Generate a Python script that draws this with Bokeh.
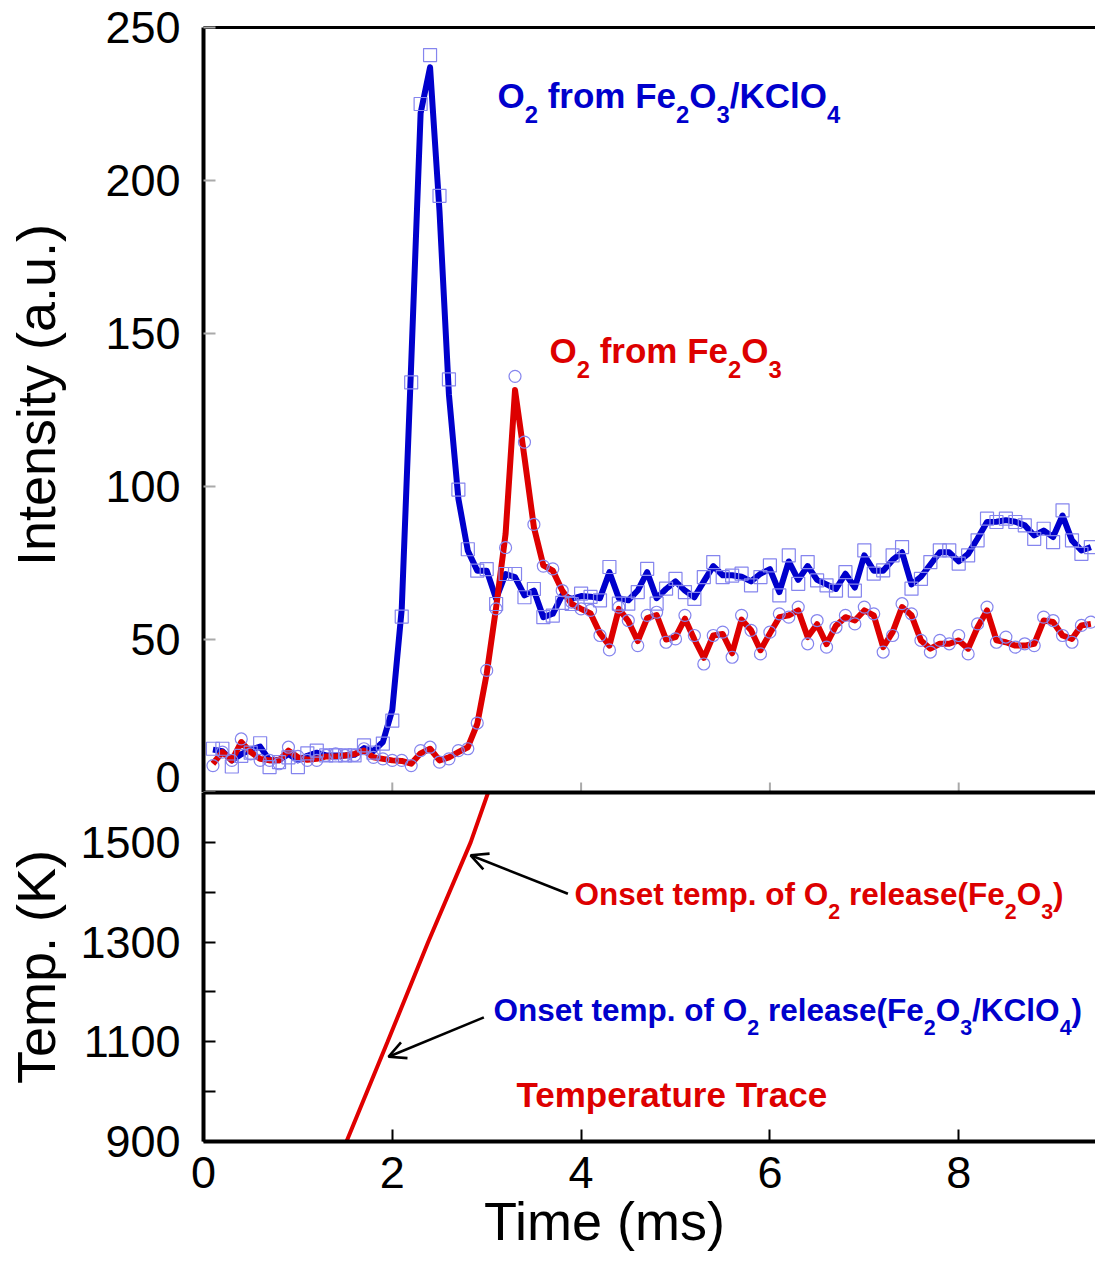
from bokeh.plotting import figure
from bokeh.layouts import column
from bokeh.models import Range1d, LinearAxis, FixedTicker, Label, Arrow, OpenHead
from bokeh.embed import file_html
from bokeh.resources import INLINE

# ---------------- data ----------------
time_ms = [0.1, 0.2, 0.3, 0.4, 0.5, 0.6, 0.7, 0.8, 0.9, 1.0,
           1.1, 1.2, 1.3, 1.4, 1.5, 1.6, 1.7, 1.8, 1.9, 2.0,
           2.1, 2.2, 2.3, 2.4, 2.5, 2.6, 2.7, 2.8, 2.9, 3.0,
           3.1, 3.2, 3.3, 3.4, 3.5, 3.6, 3.7, 3.8, 3.9, 4.0,
           4.1, 4.2, 4.3, 4.4, 4.5, 4.6, 4.7, 4.8, 4.9, 5.0,
           5.1, 5.2, 5.3, 5.4, 5.5, 5.6, 5.7, 5.8, 5.9, 6.0,
           6.1, 6.2, 6.3, 6.4, 6.5, 6.6, 6.7, 6.8, 6.9, 7.0,
           7.1, 7.2, 7.3, 7.4, 7.5, 7.6, 7.7, 7.8, 7.9, 8.0,
           8.1, 8.2, 8.3, 8.4, 8.5, 8.6, 8.7, 8.8, 8.9, 9.0,
           9.1, 9.2, 9.3, 9.4]

# O2 from Fe2O3/KClO4 : measured points (squares) and smoothed curve
kclo4_points = [14.3, 14.3, 8.5, 12.0, 13.0, 16.1, 8.3, 9.9, 11.5, 8.3,
                12.8, 13.7, 12.1, 12.1, 12.1, 12.1, 15.4, 13.0, 16.0, 23.5,
                57.5, 134.0, 225.0, 241.0, 195.0, 135.0, 99.0, 79.5, 72.5, 73.0,
                61.6, 71.4, 71.4, 63.8, 66.5, 57.3, 57.8, 62.0, 61.6, 65.0,
                63.9, 62.8, 73.7, 61.7, 61.7, 65.5, 73.1, 61.7, 66.6, 69.8,
                65.5, 63.3, 70.4, 75.3, 70.4, 70.9, 71.5, 67.7, 70.4, 74.2,
                64.4, 77.5, 68.2, 75.3, 69.3, 67.7, 66.0, 72.0, 66.0, 79.1,
                71.5, 72.6, 77.5, 80.2, 66.6, 69.8, 75.3, 79.1, 79.1, 74.8,
                77.5, 82.4, 89.5, 88.4, 89.5, 88.4, 87.3, 82.9, 86.2, 81.8,
                92.2, 82.4, 78.0, 80.2]
kclo4_curve = [14.0, 13.5, 10.5, 12.5, 14.0, 15.0, 10.5, 10.5, 12.6, 10.5,
               12.0, 13.0, 12.1, 12.1, 12.1, 12.3, 14.5, 13.5, 16.5, 27.0,
               60.0, 140.0, 222.0, 237.0, 190.0, 130.0, 96.0, 79.0, 72.5, 72.5,
               63.3, 71.4, 70.4, 64.4, 66.0, 57.3, 58.4, 64.5, 63.3, 64.2,
               64.0, 63.5, 72.0, 63.5, 62.8, 66.0, 72.0, 63.5, 66.5, 69.0,
               66.0, 63.8, 69.0, 74.0, 71.0, 71.0, 70.5, 69.0, 71.5, 73.0,
               65.5, 75.5, 69.5, 74.0, 69.5, 68.0, 66.5, 71.5, 67.0, 77.5,
               72.5, 72.5, 76.0, 78.5, 68.0, 70.5, 74.5, 78.5, 78.5, 75.5,
               78.0, 83.0, 88.4, 88.5, 89.0, 88.5, 87.3, 84.0, 85.6, 83.5,
               90.5, 82.4, 79.1, 80.2]

# O2 from Fe2O3 : measured points (circles) and smoothed curve
fe2o3_points = [8.8, 13.2, 10.5, 17.5, 12.6, 10.5, 10.5, 9.4, 14.8, 11.8,
                10.5, 10.5, 12.1, 12.6, 12.1, 12.1, 14.3, 11.5, 11.0, 10.5,
                10.5, 8.8, 13.7, 14.8, 9.9, 11.0, 13.7, 14.3, 22.7, 39.9,
                60.0, 80.0, 136.0, 114.5, 87.6, 74.0, 73.1, 66.0, 62.2, 60.0,
                59.5, 51.3, 46.6, 60.6, 56.2, 48.0, 57.9, 58.9, 49.1, 50.2,
                57.9, 51.3, 42.0, 51.3, 52.4, 44.2, 57.9, 53.0, 45.3, 52.4,
                58.4, 57.3, 60.6, 48.6, 56.2, 47.5, 54.0, 57.9, 55.1, 60.6,
                58.4, 45.9, 51.3, 61.7, 58.4, 49.7, 45.9, 49.7, 48.6, 51.3,
                45.3, 55.1, 60.6, 49.1, 50.8, 47.5, 48.6, 48.0, 57.3, 56.2,
                51.3, 49.1, 54.6, 55.7]
fe2o3_curve = [9.4, 13.2, 10.5, 16.5, 13.2, 11.0, 10.5, 10.5, 13.7, 11.5,
               10.7, 11.0, 11.8, 11.8, 12.1, 12.6, 13.7, 11.5, 11.0, 10.5,
               10.3, 9.4, 12.8, 14.3, 10.5, 11.5, 13.2, 14.8, 22.4, 38.8,
               60.5, 84.5, 131.5, 109.5, 86.7, 74.2, 72.5, 66.0, 61.6, 60.0,
               58.5, 52.0, 48.0, 60.0, 56.0, 49.5, 57.0, 58.0, 50.0, 50.8,
               56.8, 50.0, 44.0, 51.3, 51.8, 45.5, 56.5, 53.0, 46.5, 52.0,
               57.3, 57.9, 59.5, 50.8, 55.0, 48.5, 54.5, 57.3, 56.2, 59.5,
               57.9, 47.5, 52.4, 60.6, 57.9, 49.7, 47.0, 48.6, 48.6, 49.7,
               47.0, 54.0, 59.5, 49.7, 49.1, 48.0, 48.0, 48.6, 56.2, 55.7,
               51.3, 50.2, 54.6, 55.1]

# temperature trace
temp_time = [1.515, 1.95, 2.38, 2.83, 3.015]
temp_K = [900, 1100, 1300, 1500, 1600]

# onset arrows (time, temperature): start -> end
onset_fe2o3 = (3.86, 1397, 2.83, 1474)
onset_kclo4 = (2.97, 1149, 1.96, 1070)

intensity_ticks = [0, 50, 100, 150, 200, 250]
temp_ticks = [900, 1100, 1300, 1500]
temp_minor = [1000, 1200, 1400, 1600]
time_ticks = [0, 2, 4, 6, 8]

# ---------------- styling / layout ----------------
FONT = "Liberation Sans"
BLUE = "#0000cc"
RED = "#dd0000"
MARK = "#8585ee"
LEFT = 203
PXMS = 94.4
FW = 892
X_END = FW / PXMS
TOP_H = 765
BOT_H = 349
TICK_FS = "45px"
NB = "\u00a0"

xr = Range1d(0, X_END)


def base_fig(frame_h, yr, top, bottom):
    p = figure(frame_width=FW, frame_height=frame_h, x_range=xr, y_range=yr,
               output_backend="svg", toolbar_location=None,
               x_axis_location=None, y_axis_location=None,
               min_border_left=LEFT, min_border_right=0,
               min_border_top=top, min_border_bottom=bottom)
    p.outline_line_color = None
    p.background_fill_color = "white"
    p.border_fill_color = "white"
    for g in p.grid:
        g.visible = False
    return p


def line_axis(width):
    return LinearAxis(ticker=FixedTicker(ticks=[]), major_label_text_font_size="0px",
                      major_tick_in=0, major_tick_out=0, minor_tick_in=0, minor_tick_out=0,
                      major_label_standoff=0, axis_line_width=width, axis_line_color="black")


# ---- top panel ----
p1 = base_fig(TOP_H, Range1d(0, 250), 27, 0)
ya1 = LinearAxis(ticker=FixedTicker(ticks=intensity_ticks),
                 axis_label=NB * 2 + "Intensity (a.u.)", axis_label_text_font=FONT,
                 axis_label_text_font_size="54px", axis_label_text_font_style="normal",
                 axis_label_text_color="black", axis_label_standoff=36,
                 major_label_text_font=FONT, major_label_text_font_size=TICK_FS,
                 major_label_text_color="black",
                 major_label_standoff=23, major_tick_in=12, major_tick_out=0,
                 major_tick_line_color="#aaaaaa", major_tick_line_width=2,
                 minor_tick_line_color=None, axis_line_width=4, axis_line_color="black")
p1.add_layout(ya1, "left")
p1.add_layout(line_axis(3), "above")
p1.add_layout(line_axis(4), "below")

# grey inward ticks on the bottom edge of the upper panel
p1.segment(x0=time_ticks[1:], y0=[0] * 4, x1=time_ticks[1:], y1=[10 * 250 / TOP_H] * 4,
           line_color="#aaaaaa", line_width=2)

p1.line(time_ms, kclo4_curve, line_color=BLUE, line_width=6, line_join="round")
p1.line(time_ms, fe2o3_curve, line_color=RED, line_width=6, line_join="round")
p1.scatter(time_ms, kclo4_points, marker="square", size=13, fill_color=None,
           line_color=MARK, line_width=1.2)
p1.scatter(time_ms, fe2o3_points, marker="circle", size=12, fill_color=None,
           line_color=MARK, line_width=1.2)

# ---- bottom panel ----
p2 = base_fig(BOT_H, Range1d(900, 1600), 0, 0)
ya2 = LinearAxis(ticker=FixedTicker(ticks=temp_ticks, minor_ticks=temp_minor),
                 axis_label="Temp. (K)", axis_label_text_font=FONT,
                 axis_label_text_font_size="54px", axis_label_text_font_style="normal",
                 axis_label_text_color="black", axis_label_standoff=11,
                 major_label_text_font=FONT, major_label_text_font_size=TICK_FS,
                 major_label_text_color="black",
                 major_label_standoff=23, major_tick_in=12, major_tick_out=0,
                 minor_tick_in=12, minor_tick_out=0,
                 major_tick_line_color="black", major_tick_line_width=2,
                 minor_tick_line_color="black", minor_tick_line_width=2,
                 axis_line_width=4, axis_line_color="black")
p2.add_layout(ya2, "left")
p2.add_layout(line_axis(4), "above")
xb2 = LinearAxis(ticker=FixedTicker(ticks=time_ticks),
                 axis_label="Time (ms)" + NB * 6, axis_label_text_font=FONT,
                 axis_label_text_font_size="54px", axis_label_text_font_style="normal",
                 axis_label_text_color="black", axis_label_standoff=0,
                 major_label_text_font=FONT, major_label_text_font_size=TICK_FS,
                 major_label_text_color="black",
                 major_label_standoff=15, major_tick_in=12, major_tick_out=0,
                 major_tick_line_color="black", major_tick_line_width=2,
                 minor_tick_line_color=None, axis_line_width=4, axis_line_color="black")
p2.add_layout(xb2, "below")

p2.line(temp_time, temp_K, line_color="#e00000", line_width=4)

for (xs, ys, xe, ye) in (onset_fe2o3, onset_kclo4):
    p2.add_layout(Arrow(end=OpenHead(size=17, line_width=2.6, line_color="black"),
                        x_start=xs, y_start=ys, x_end=xe, y_end=ye,
                        line_width=2.6, line_color="black"))


def ymap_top(py):
    return (792 - py) * 250.0 / TOP_H


def ymap_bot(py):
    return 900 + (1141 - py) * 700.0 / BOT_H


# ---- rich text with subscripts ----
W = {' ': 278, '(': 333, ')': 333, '.': 278, '/': 278, '2': 556, '3': 556, '4': 556,
     'C': 722, 'F': 611, 'K': 722, 'O': 778, 'T': 611, 'a': 556, 'c': 556, 'e': 556,
     'f': 333, 'l': 278, 'm': 889, 'n': 611, 'o': 611, 'p': 611, 'r': 389, 's': 556,
     't': 333, 'u': 611}


def rich(p, pieces, x_px, base_px, size, color, ymap):
    x = x_px
    for txt, sub in pieces:
        fs = size * 0.68 if sub else size
        base = base_px + (0.42 * size if sub else 0)
        lead = len(txt) - len(txt.lstrip(" "))
        x += lead * W[" "] / 1000.0 * fs
        txt = txt.lstrip(" ")
        p.add_layout(Label(x=(x - LEFT) / PXMS, y=ymap(base - 0.36 * fs), text=txt,
                           text_font=FONT, text_font_style="bold",
                           text_font_size=f"{fs:.1f}px", text_color=color,
                           text_align="left", text_baseline="alphabetic"))
        x += sum(W.get(c, 556) for c in txt) / 1000.0 * fs


rich(p1, [("O", 0), ("2", 1), (" from Fe", 0), ("2", 1), ("O", 0), ("3", 1),
          ("/KClO", 0), ("4", 1)], 497, 108, 35, BLUE, ymap_top)
rich(p1, [("O", 0), ("2", 1), (" from Fe", 0), ("2", 1), ("O", 0), ("3", 1)],
     549, 363, 35, RED, ymap_top)
rich(p2, [("Onset temp. of O", 0), ("2", 1), (" release(Fe", 0), ("2", 1), ("O", 0),
          ("3", 1), (")", 0)], 574, 905, 31.5, RED, ymap_bot)
rich(p2, [("Onset temp. of O", 0), ("2", 1), (" release(Fe", 0), ("2", 1), ("O", 0),
          ("3", 1), ("/KClO", 0), ("4", 1), (")", 0)], 493, 1021, 31.5, BLUE, ymap_bot)
rich(p2, [("Temperature Trace", 0)], 516, 1107, 35, RED, ymap_bot)

layout = column(p1, p2, spacing=0)
open("out.html", "w").write(file_html(layout, INLINE))
